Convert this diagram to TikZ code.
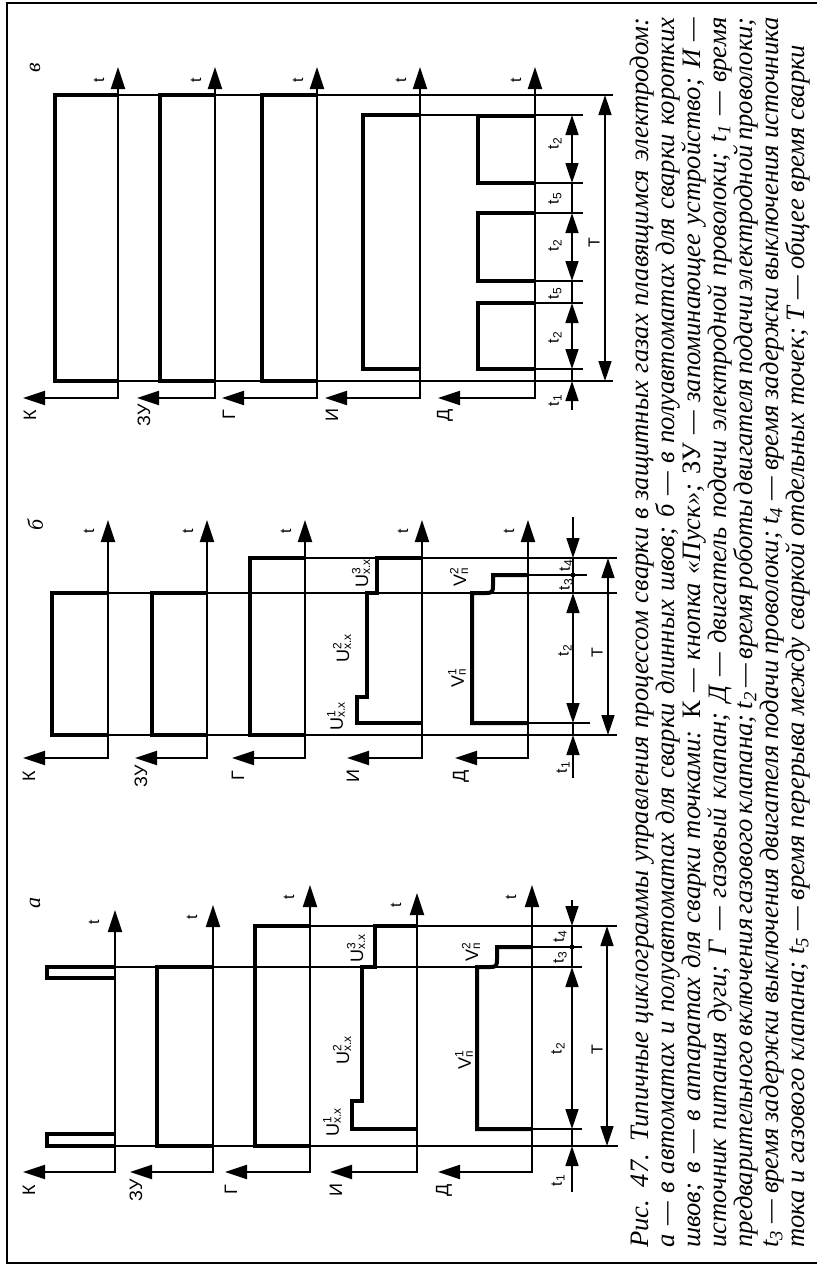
\documentclass[tikz,border=0pt]{standalone}
\usepackage{fontspec}
\setmainfont{Liberation Serif}
\newfontfamily\lblfont{Liberation Sans}
\usetikzlibrary{arrows.meta}

\newcommand{\supsub}[3]{#1\rlap{\textsuperscript{#2}}\textsubscript{#3}}

\begin{document}
\begin{tikzpicture}[x=0.5pt, y=-0.5pt,
  axis/.style={line width=1.1pt, {Triangle[length=11pt,width=7pt]}-{Triangle[length=11pt,width=7pt]}},
  wave/.style={line width=2pt, line join=miter},
  ref/.style={line width=0.8pt},
  dimline/.style={line width=0.8pt},
  dimarr/.style={line width=0.8pt, -{Triangle[length=10pt,width=6.5pt]}},
  dimboth/.style={line width=0.8pt, {Triangle[length=10pt,width=6.5pt]}-{Triangle[length=10pt,width=6.5pt]}},
  sig/.style={font=\lblfont\fontsize{9}{10}\selectfont, rotate=90, inner sep=0pt},
  tlbl/.style={font=\lblfont\fontsize{8}{9}\selectfont, rotate=90, inner sep=0pt},
  ulbl/.style={font=\lblfont\fontsize{9}{10}\selectfont, rotate=90, inner sep=0pt},
  panel/.style={font=\itshape\fontsize{11}{12}\selectfont, rotate=90, inner sep=0pt},
  capline/.style={font=\itshape\fontsize{13.3}{14}\selectfont, rotate=90, inner sep=0pt, anchor=base west}
]
\useasboundingbox (0,0) rectangle (817,1266);

%% frame
\draw[line width=0.75pt] (817,3) -- (7,3) -- (7,1263) -- (817,1263);

%% ---------------- panel v (spot welding) ----------------
\node[panel] (pv) at (35,68) {в};
\foreach \ax/\tp/\lt/\sname [count=\i] in {118/67/23/К, 215/67/137/ЗУ, 317/67/222/Г, 420/67/325/И, 535/67/438/Д}{
  \draw[axis] (\lt,398) -- (\ax,398) -- (\ax,\tp);
  \node[sig]  (vs\i) at (\lt+7,415) {\sname};
  \node[tlbl] (vt\i) at (\ax-19,\tp+13) {t};
}
% reference lines
\draw[ref] (55,95) -- (613,95);
\draw[ref] (55,381) -- (613,381);
\draw[ref] (363,115) -- (583,115);
\foreach \yy in {369,303,281,213,183}
  \draw[ref] (535,\yy) -- (583,\yy);
% waveforms
\draw[wave] (118,381) -- (55,381) -- (55,95) -- (118,95);
\draw[wave] (215,381) -- (160,381) -- (160,95) -- (215,95);
\draw[wave] (317,381) -- (262,381) -- (262,95) -- (317,95);
\draw[wave] (420,369) -- (363,369) -- (363,115) -- (420,115);
\foreach \ya/\yb in {369/303, 281/213, 183/116}
  \draw[wave] (535,\ya) -- (478,\ya) -- (478,\yb) -- (535,\yb);
% dimensions
\draw[dimarr]  (572,410) -- (572,381);
\draw[dimline] (572,381) -- (572,369);
\draw[dimboth] (572,369) -- (572,303);
\draw[dimline] (572,303) -- (572,281);
\draw[dimboth] (572,281) -- (572,213);
\draw[dimline] (572,213) -- (572,183);
\draw[dimboth] (572,183) -- (572,115);
\draw[dimboth] (605,381) -- (605,95);
\node[tlbl] (vd1) at (555,400) {t\textsubscript{1}};
\node[tlbl] (vd2) at (555,337) {t\textsubscript{2}};
\node[tlbl] (vd3) at (555,293) {t\textsubscript{5}};
\node[tlbl] (vd4) at (555,245) {t\textsubscript{2}};
\node[tlbl] (vd5) at (555,198) {t\textsubscript{5}};
\node[tlbl] (vd6) at (555,143) {t\textsubscript{2}};
\node[tlbl] (vdT) at (594,243) {T};

%% ---------------- panel b (short seams) ----------------
\node[panel] (pb) at (35,525) {б};
\foreach \ax/\tp/\lt/\sname [count=\i] in {108/520/23/К, 207/520/135/ЗУ, 305/520/232/Г, 422/520/347/И, 528/520/455/Д}{
  \draw[axis] (\lt,758) -- (\ax,758) -- (\ax,\tp);
  \node[sig]  (bs\i) at (\lt+6,776) {\sname};
  \node[tlbl] (bt\i) at (\ax-19,\tp+11) {t};
}
% reference lines
\draw[ref] (250,558) -- (617,558);
\draw[ref] (52,593) -- (617,593);
\draw[ref] (52,735) -- (617,735);
\draw[ref] (528,575) -- (587,575);
\draw[ref] (528,723) -- (590,723);
% waveforms
\draw[wave] (108,735) -- (52,735) -- (52,593) -- (108,593);
\draw[wave] (207,735) -- (152,735) -- (152,593) -- (207,593);
\draw[wave] (305,735) -- (250,735) -- (250,558) -- (305,558);
\draw[wave] (422,723) -- (357,723) -- (357,697) -- (367,697) -- (367,593)
            -- (377,593) -- (377,558) -- (422,558);
\draw[wave] (528,723) -- (472,723) -- (472,593) -- (486,593)
            .. controls (493,593) and (493,591) .. (493,585) -- (493,575) -- (528,575);
% dimensions
\draw[dimarr]  (573,517) -- (573,558);
\draw[dimline] (573,558) -- (573,593);
\fill (573,575) circle[radius=2.5];
\draw[dimboth] (573,593) -- (573,723);
\draw[dimline] (573,723) -- (573,735);
\draw[dimarr]  (573,778) -- (573,735);
\draw[dimboth] (608,558) -- (608,735);
\node[tlbl] (bd4) at (566,565) {t\textsubscript{4}};
\node[tlbl] (bd3) at (566,584) {t\textsubscript{3}};
\node[tlbl] (bd2) at (565,650) {t\textsubscript{2}};
\node[tlbl] (bd1) at (563,767) {t\textsubscript{1}};
\node[tlbl] (bdT) at (597,653) {T};
\node[ulbl] (bu1) at (336,716) {\supsub{U}{1}{х.х}};
\node[ulbl] (bu2) at (342,648) {\supsub{U}{2}{х.х}};
\node[ulbl] (bu3) at (361,573) {\supsub{U}{3}{х.х}};
\node[ulbl] (bv1) at (457,678) {\supsub{V}{1}{п}};
\node[ulbl] (bv2) at (459,577) {\supsub{V}{2}{п}};

%% ---------------- panel a (long seams) ----------------
\node[panel] (pa) at (35,903) {а};
\foreach \ax/\tp/\lt/\sname [count=\i] in {115/910/23/К, 213/905/130/ЗУ, 310/885/225/Г, 417/893/330/И, 532/885/438/Д}{
  \draw[axis] (\lt,1172) -- (\ax,1172) -- (\ax,\tp);
  \node[sig]  (as\i) at (\lt+6,1190) {\sname};
  \node[tlbl] (at\i) at (\ax-21,\tp+12) {t};
}
% reference lines
\draw[ref] (255,926) -- (617,926);
\draw[ref] (47,967) -- (582,967);
\draw[ref] (47,1146) -- (618,1146);
\draw[ref] (532,947) -- (582,947);
\draw[ref] (532,1129) -- (582,1129);
% waveforms
\draw[wave] (115,1146) -- (47,1146) -- (47,1134) -- (115,1134);
\draw[wave] (115,978) -- (47,978) -- (47,967) -- (115,967);
\draw[wave] (213,1146) -- (157,1146) -- (157,967) -- (213,967);
\draw[wave] (310,1146) -- (255,1146) -- (255,926) -- (310,926);
\draw[wave] (417,1129) -- (352,1129) -- (352,1101) -- (362,1101) -- (362,967)
            -- (375,967) -- (375,926) -- (417,926);
\draw[wave] (532,1129) -- (477,1129) -- (477,967) -- (490,967)
            .. controls (497,967) and (497,965) .. (497,959) -- (497,947) -- (532,947);
% dimensions
\draw[dimarr]  (572,900) -- (572,926);
\draw[dimline] (572,926) -- (572,967);
\fill (572,947) circle[radius=2.5];
\draw[dimboth] (572,967) -- (572,1129);
\draw[dimline] (572,1129) -- (572,1146);
\draw[dimarr]  (572,1192) -- (572,1146);
\draw[dimboth] (607,926) -- (607,1146);
\node[tlbl] (ad4) at (560,936) {t\textsubscript{4}};
\node[tlbl] (ad3) at (560,957) {t\textsubscript{3}};
\node[tlbl] (ad2) at (558,1048) {t\textsubscript{2}};
\node[tlbl] (ad1) at (558,1180) {t\textsubscript{1}};
\node[tlbl] (adT) at (597,1050) {T};
\node[ulbl] (au1) at (332,1122) {\supsub{U}{1}{х.х}};
\node[ulbl] (au2) at (342,1050) {\supsub{U}{2}{х.х}};
\node[ulbl] (au3) at (356,948) {\supsub{U}{3}{х.х}};
\node[ulbl] (av1) at (464,1060) {\supsub{V}{1}{п}};
\node[ulbl] (av2) at (471,952) {\supsub{V}{2}{п}};

%% ---------------- caption ----------------
\node[capline] (cap1) at (648,1248) {\makebox[615pt][s]{Рис. 47. Типичные циклограммы управления процессом сварки в защитных газах плавящимся электродом:}};
\node[capline] (cap2) at (674,1248) {\makebox[615pt][s]{а — в автоматах и полуавтоматах для сварки длинных швов; б — в полуавтоматах для сварки коротких}};
\node[capline] (cap3) at (700,1248) {\makebox[615pt][s]{швов; в — в аппаратах для сварки точками: \upshape К\itshape{} — кнопка «Пуск»; \upshape ЗУ\itshape{} — запоминающее устройство; И —}};
\node[capline] (cap4) at (726,1248) {\makebox[615pt][s]{источник питания дуги; Г — газовый клапан; Д — двигатель подачи электродной проволоки; t\textsubscript{1} — время}};
\node[capline] (cap5) at (752,1248) {\makebox[615pt][s]{предварительного включения газового клапана; t\textsubscript{2} — время роботы двигателя подачи электродной проволоки;}};
\node[capline] (cap6) at (778,1248) {\makebox[615pt][s]{t\textsubscript{3} — время задержки выключения двигателя подачи проволоки; t\textsubscript{4} — время задержки выключения источника}};
\node[capline] (cap7) at (804,1248) {тока и газового клапана; t\textsubscript{5} — время перерыва между сваркой отдельных точек; T — общее время сварки};
\end{tikzpicture}
\end{document}
